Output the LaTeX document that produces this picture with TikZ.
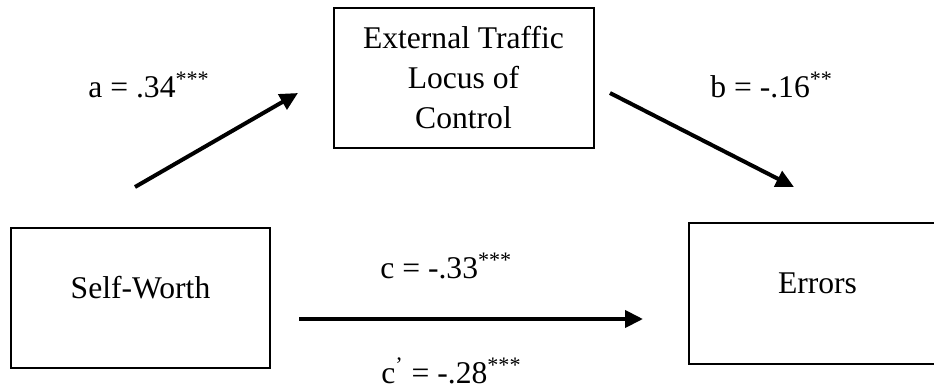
\documentclass[tikz,border=0pt]{standalone}
\usepackage{fontspec}
\setmainfont{Liberation Serif}
\usetikzlibrary{arrows.meta}
\begin{document}
\begin{tikzpicture}[x=0.5pt,y=-0.5pt,
  every node/.style={font=\fontsize{15.8pt}{20pt}\selectfont},
  varbox/.style={draw,line width=1pt,inner sep=0pt,text height=0pt,text depth=0pt},
  coef/.style={anchor=base west,inner sep=0pt},
  path/.style={line width=2pt,-{Triangle[length=9pt,width=8.5pt]}}]
\useasboundingbox (0,0) rectangle (934,387);

% variables
\node[varbox,minimum width=130pt,minimum height=70pt] (med) at (463.5,78) {};
% the mediator's label, placed by the baseline of its last line
\node[inner sep=0pt,align=center,anchor=base] (medtext) at (463.5,128)
  {External Traffic\\Locus of\\Control};
\node[varbox,minimum width=129.5pt,minimum height=70pt] (pred) at (140.5,298) {Self-Worth};
\node[varbox,minimum width=128.5pt,minimum height=70.5pt] (out) at (817.5,293.5) {Errors};

% free ends of the paths
\coordinate (a0) at (135,187);
\coordinate (a1) at (298,93);
\coordinate (b0) at (610,93);
\coordinate (b1) at (794,187);
\coordinate (c0) at (299,319);
\coordinate (c1) at (643,319);

\draw[path] (a0) -- (a1);
\draw[path] (b0) -- (b1);
\draw[path] (c0) -- (c1);

% path coefficients
\node[coef] (la) at (88,97) {a = .34\textsuperscript{***}};
\node[coef] (lb) at (710,97) {b = -.16\textsuperscript{**}};
\node[coef] (lc) at (380,278) {c = -.33\textsuperscript{***}};
\node[coef] (lcp) at (381,383) {c\textsuperscript{’} = -.28\textsuperscript{***}};
\end{tikzpicture}
\end{document}
